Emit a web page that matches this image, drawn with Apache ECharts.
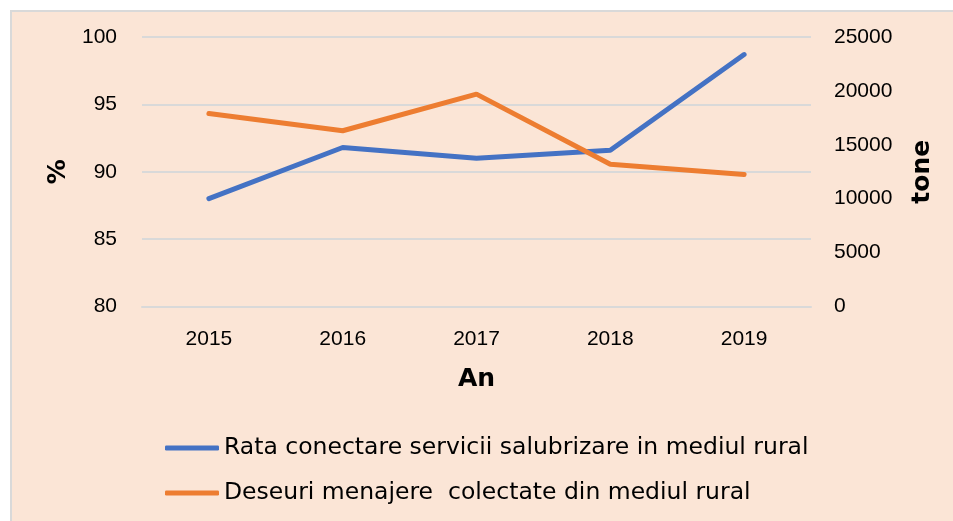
<!DOCTYPE html>
<html>
<head>
<meta charset="utf-8">
<script src="https://cdn.jsdelivr.net/npm/echarts@6/dist/echarts.min.js"></script>
<style>
html,body{margin:0;padding:0;background:#fff;}
#chart{width:953px;height:521px;}
</style>
</head>
<body>
<div id="chart"></div>
<script>
const categories = ['2015', '2016', '2017', '2018', '2019'];
const rataConectare = [88.0, 91.8, 91.0, 91.6, 98.7];
const deseuriColectate = [17900, 16300, 19700, 13200, 12250];
const seriesNames = ['Rata conectare servicii salubrizare in mediul rural', 'Deseuri menajere  colectate din mediul rural'];

const chart = echarts.init(document.getElementById('chart'));
const tickFont = {color: '#000', fontSize: 21, fontFamily: 'Liberation Sans'};
const nameFont = {color: '#000', fontSize: 25, fontWeight: 'bold', fontFamily: 'DejaVu Sans'};
chart.setOption({
  backgroundColor: '#ffffff',
  animation: false,
  graphic: [{
    type: 'rect', left: 10, top: 10, z: -10,
    shape: {width: 943, height: 511},
    style: {fill: '#FBE5D6', stroke: '#D9D9D9', lineWidth: 2}
  }],
  grid: {left: 142, right: 142, top: 37, bottom: 214.5},
  legend: {
    orient: 'vertical', left: 160, top: 431, itemGap: 21,
    itemWidth: 54, itemHeight: 5, icon: 'roundRect',
    textStyle: {color: '#000', fontSize: 23.5, fontFamily: 'DejaVu Sans'},
    data: seriesNames
  },
  xAxis: {
    type: 'category', data: categories,
    name: 'An', nameLocation: 'middle', nameGap: 60,
    nameTextStyle: nameFont,
    axisLine: {lineStyle: {color: '#D9D9D9', width: 2}},
    axisTick: {show: false},
    axisLabel: Object.assign({margin: 22}, tickFont)
  },
  yAxis: [{
    type: 'value', min: 80, max: 100, interval: 5,
    name: '%', nameLocation: 'middle', nameGap: 68, nameRotate: 90,
    nameTextStyle: nameFont,
    axisLine: {show: false}, axisTick: {show: false},
    axisLabel: Object.assign({margin: 25}, tickFont),
    splitLine: {lineStyle: {color: '#D9D9D9', width: 2}}
  }, {
    type: 'value', min: 0, max: 25000, interval: 5000,
    name: 'tone', nameLocation: 'middle', nameGap: 99, nameRotate: 90,
    nameTextStyle: nameFont,
    axisLine: {show: false}, axisTick: {show: false},
    axisLabel: Object.assign({margin: 23, formatter: v => String(v)}, tickFont),
    splitLine: {show: false}
  }],
  series: [{
    name: seriesNames[0], type: 'line', yAxisIndex: 0,
    data: rataConectare, symbol: 'none',
    lineStyle: {color: '#4472C4', width: 5, cap: 'round'},
    itemStyle: {color: '#4472C4'}
  }, {
    name: seriesNames[1], type: 'line', yAxisIndex: 1,
    data: deseuriColectate, symbol: 'none',
    lineStyle: {color: '#ED7D31', width: 5, cap: 'round'},
    itemStyle: {color: '#ED7D31'}
  }]
});
</script>
</body>
</html>
